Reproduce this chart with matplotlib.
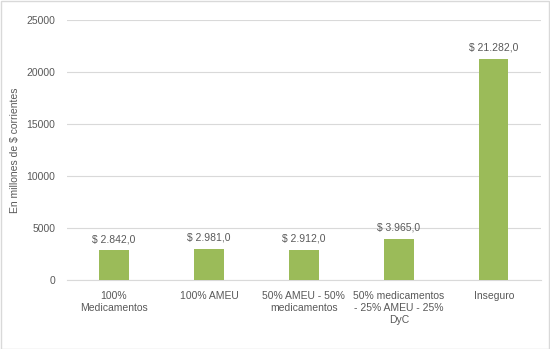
import matplotlib
matplotlib.use("Agg")
import matplotlib.pyplot as plt

categories = ["100%\nMedicamentos", "100% AMEU", "50% AMEU - 50%\nmedicamentos",
              "50% medicamentos\n- 25% AMEU - 25%\nDyC", "Inseguro"]
values = [2842.0, 2981.0, 2912.0, 3965.0, 21282.0]
value_labels = ["$ 2.842,0", "$ 2.981,0", "$ 2.912,0", "$ 3.965,0", "$ 21.282,0"]
yticks = [0, 5000, 10000, 15000, 20000, 25000]

plt.rcParams['font.family'] = ['Liberation Sans', 'DejaVu Sans']
fig = plt.figure(figsize=(5.5, 3.49), dpi=100)
ax = fig.add_axes([0.121, 0.198, 0.863, 0.745])
txt = '#595959'
x = range(len(categories))
ax.bar(x, values, width=0.31, color='#9BBB59', zorder=3)
for i, (v, l) in enumerate(zip(values, value_labels)):
    ax.text(i, v + 600, l, ha='center', va='bottom', fontsize=7.5, color=txt)
ax.set_xlim(-0.5, len(categories) - 0.5)
ax.set_ylim(0, 25000)
ax.set_yticks(yticks)
ax.set_yticklabels([str(t) for t in yticks], fontsize=7.5, color=txt)
ax.set_xticks(list(x))
ax.set_xticklabels(categories, fontsize=7.5, color=txt, linespacing=1.25)
ax.tick_params(axis='both', length=0, pad=8)
ax.grid(axis='y', color='#D9D9D9', linewidth=0.8, zorder=0)
for s in ['top', 'right', 'left']:
    ax.spines[s].set_visible(False)
ax.spines['bottom'].set_color('#D9D9D9')
ax.set_ylabel("En millones de $ corrientes", fontsize=7.5, color=txt, labelpad=5)
fig.patches.append(plt.Rectangle((0.001, 0.001), 0.997, 0.997, transform=fig.transFigure,
                                 fill=False, edgecolor='#D9D9D9', linewidth=1))
fig.savefig("out.png", dpi=100)
